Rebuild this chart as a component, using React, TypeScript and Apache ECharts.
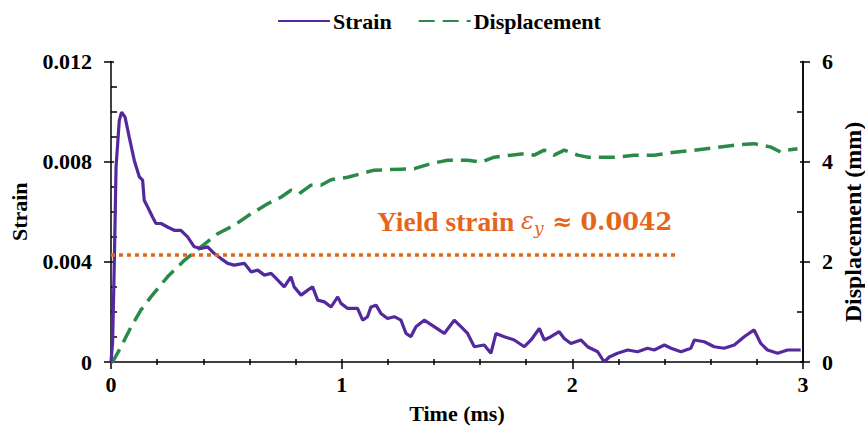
import React, { useEffect, useRef } from "react";
import * as echarts from "echarts";

const strainTime = [0, 0.007, 0.014, 0.022, 0.036, 0.046, 0.061, 0.079, 0.101, 0.123, 0.137, 0.144, 0.159, 0.18, 0.195, 0.217, 0.245, 0.274, 0.303, 0.332, 0.361, 0.39, 0.419, 0.448, 0.477, 0.506, 0.534, 0.578, 0.607, 0.636, 0.665, 0.694, 0.723, 0.751, 0.78, 0.794, 0.824, 0.853, 0.874, 0.896, 0.925, 0.954, 0.983, 0.997, 1.026, 1.069, 1.091, 1.112, 1.127, 1.149, 1.17, 1.199, 1.228, 1.257, 1.279, 1.3, 1.322, 1.358, 1.401, 1.445, 1.488, 1.517, 1.546, 1.575, 1.618, 1.647, 1.669, 1.705, 1.748, 1.792, 1.821, 1.857, 1.878, 1.907, 1.943, 1.965, 1.994, 2.037, 2.066, 2.11, 2.138, 2.16, 2.196, 2.24, 2.283, 2.326, 2.355, 2.399, 2.428, 2.471, 2.514, 2.529, 2.572, 2.615, 2.658, 2.702, 2.745, 2.788, 2.817, 2.846, 2.89, 2.933, 2.99];
const strainValues = [0, 0.0008, 0.0038, 0.0078, 0.00965, 0.00998, 0.00978, 0.00898, 0.00805, 0.00739, 0.00726, 0.00646, 0.00619, 0.00579, 0.00553, 0.00553, 0.00539, 0.00526, 0.00526, 0.005, 0.0046, 0.00453, 0.0046, 0.00433, 0.00413, 0.00394, 0.00387, 0.00394, 0.0036, 0.00367, 0.00347, 0.00354, 0.00327, 0.003, 0.0034, 0.003, 0.00267, 0.00287, 0.003, 0.00247, 0.0024, 0.0022, 0.0026, 0.00234, 0.00214, 0.00214, 0.00167, 0.00181, 0.0022, 0.00227, 0.00194, 0.00174, 0.00181, 0.00167, 0.00114, 0.00101, 0.00141, 0.00167, 0.00141, 0.00114, 0.00167, 0.00141, 0.00114, 0.00061, 0.00068, 0.00035, 0.00114, 0.00101, 0.00088, 0.00061, 0.00088, 0.00134, 0.00088, 0.00101, 0.00121, 0.00094, 0.00074, 0.00088, 0.00061, 0.00041, 0.0, 0.0002, 0.00035, 0.00048, 0.00041, 0.00055, 0.00048, 0.00068, 0.00055, 0.00041, 0.00055, 0.00088, 0.00081, 0.00061, 0.00055, 0.00068, 0.00101, 0.00128, 0.00074, 0.00048, 0.00035, 0.00048, 0.00048];

const dispTime = [0, 0.007, 0.043, 0.087, 0.13, 0.173, 0.245, 0.318, 0.39, 0.462, 0.534, 0.607, 0.679, 0.737, 0.78, 0.816, 0.867, 0.91, 0.954, 1.026, 1.084, 1.141, 1.199, 1.257, 1.315, 1.387, 1.459, 1.546, 1.604, 1.661, 1.734, 1.792, 1.835, 1.878, 1.921, 1.965, 2.023, 2.066, 2.124, 2.196, 2.268, 2.355, 2.442, 2.529, 2.615, 2.702, 2.788, 2.861, 2.904, 2.933, 2.976];
const dispValues = [0, 0, 0.3, 0.7, 1.04, 1.3, 1.7, 2.03, 2.3, 2.56, 2.73, 2.96, 3.16, 3.29, 3.43, 3.36, 3.53, 3.53, 3.64, 3.69, 3.76, 3.83, 3.84, 3.85, 3.86, 3.96, 4.03, 4.03, 3.99, 4.09, 4.13, 4.16, 4.13, 4.23, 4.13, 4.23, 4.13, 4.09, 4.09, 4.09, 4.13, 4.13, 4.19, 4.23, 4.28, 4.33, 4.36, 4.29, 4.19, 4.23, 4.26];

const yieldStrain = 0.0043;
const yieldLineEnd = 2.45;
const xTicks = [0, 1, 2, 3];
const strainTicks = [0, 0.004, 0.008, 0.012];
const dispTicks = [0, 2, 4, 6];

const FONT = "Liberation Serif";
const MATH = "DejaVu Serif";
const PURPLE = "#55299E";
const GREEN = "#2B8A48";
const ORANGE = "#E4661C";

export default function App() {
  const ref = useRef<HTMLDivElement>(null);
  useEffect(() => {
    if (!ref.current) return;
    const chart = echarts.init(ref.current, null, { renderer: "svg" });
    const lbl = { fontFamily: FONT, fontWeight: "bold" as const, fontSize: 22, color: "#000" };
    const axLine = { show: true, onZero: false, lineStyle: { color: "#000", width: 1.5 } };
    const tickStyle = { color: "#000", width: 1.5 };
    const hiddenBase = {
      axisLine: { show: false, onZero: false },
      axisLabel: { show: false },
      splitLine: { show: false },
    };
    chart.setOption({
      animation: false,
      backgroundColor: "#fff",
      legend: {
        top: 5,
        left: 272,
        itemWidth: 52,
        itemHeight: 14,
        itemGap: 26,
        textStyle: { ...lbl, padding: [0, 0, 0, -2] },
        itemStyle: { opacity: 0 },
        data: ["Strain", "Displacement"],
      },
      grid: { left: 111, right: 62, top: 61.5, bottom: 74, containLabel: false },
      xAxis: [
        {
          type: "value",
          min: xTicks[0],
          max: xTicks[xTicks.length - 1],
          interval: 1,
          name: "Time (ms)",
          nameLocation: "middle",
          nameGap: 40,
          nameTextStyle: { ...lbl },
          axisLine: axLine,
          axisTick: { show: true, inside: false, length: 7, lineStyle: tickStyle },
          minorTick: { show: true, splitNumber: 5, length: 3, lineStyle: tickStyle },
          axisLabel: { ...lbl, margin: 11 },
          splitLine: { show: false },
        },
        {
          type: "value",
          position: "bottom",
          min: xTicks[0],
          max: xTicks[xTicks.length - 1],
          interval: 1,
          ...hiddenBase,
          axisTick: { show: true, inside: true, length: 3, lineStyle: tickStyle },
          minorTick: { show: true, splitNumber: 5, length: 3, lineStyle: tickStyle },
        },
      ],
      yAxis: [
        {
          type: "value",
          min: strainTicks[0],
          max: strainTicks[strainTicks.length - 1],
          interval: 0.004,
          position: "left",
          name: "Strain",
          nameLocation: "middle",
          nameGap: 81,
          nameRotate: 90,
          nameTextStyle: { ...lbl },
          axisLine: axLine,
          axisTick: { show: true, inside: false, length: 7, lineStyle: tickStyle },
          axisLabel: { ...lbl, margin: 19, formatter: (v: number) => (v === 0 ? "0" : v.toFixed(3)) },
          splitLine: { show: false },
        },
        {
          type: "value",
          min: dispTicks[0],
          max: dispTicks[dispTicks.length - 1],
          interval: 2,
          position: "right",
          axisLine: axLine,
          axisTick: { show: true, inside: false, length: 7, lineStyle: tickStyle },
          axisLabel: { ...lbl, margin: 19 },
          splitLine: { show: false },
        },
        {
          type: "value",
          min: strainTicks[0],
          max: strainTicks[strainTicks.length - 1],
          interval: 0.004,
          position: "left",
          ...hiddenBase,
          axisTick: { show: true, inside: true, length: 3, lineStyle: tickStyle },
          minorTick: { show: true, splitNumber: 4, length: 6, lineStyle: tickStyle },
        },
        {
          type: "value",
          min: dispTicks[0],
          max: dispTicks[dispTicks.length - 1],
          interval: 2,
          position: "right",
          ...hiddenBase,
          axisLine: axLine,
          axisTick: { show: true, inside: true, length: 3, lineStyle: tickStyle },
          minorTick: { show: true, splitNumber: 2, length: 6, lineStyle: tickStyle },
        },
      ],
      series: [
        {
          name: "Strain",
          type: "line",
          xAxisIndex: 0,
          yAxisIndex: 0,
          symbol: "none",
          data: strainTime.map((t, i) => [t, strainValues[i]]),
          lineStyle: { color: PURPLE, width: 3.2 },
          itemStyle: { color: PURPLE },
          z: 3,
          markLine: {
            silent: true,
            symbol: "none",
            label: { show: false },
            lineStyle: { color: ORANGE, width: 3.5, type: [4, 4], cap: "butt" },
            data: [[{ coord: [0, yieldStrain] }, { coord: [yieldLineEnd, yieldStrain] }]],
          },
        },
        {
          name: "Displacement",
          type: "line",
          xAxisIndex: 0,
          yAxisIndex: 1,
          symbol: "none",
          data: dispTime.map((t, i) => [t, dispValues[i]]),
          lineStyle: { color: GREEN, width: 3.5, type: [16, 8] },
          itemStyle: { color: GREEN },
          z: 2,
        },
      ],
      graphic: [
        {
          type: "text",
          x: 377,
          y: 221,
          style: {
            text: "{a|Yield strain }{e|ε}{s|y}{b| ≈ 0.0042}",
            verticalAlign: "middle",
            fill: ORANGE,
            rich: {
              a: { fontFamily: FONT, fontWeight: "bold", fontSize: 27.5, fill: ORANGE },
              e: { fontFamily: MATH, fontStyle: "italic", fontSize: 24, fill: ORANGE },
              s: { fontFamily: MATH, fontStyle: "italic", fontSize: 17, fill: ORANGE, padding: [14, 0, 0, 0] },
              b: { fontFamily: MATH, fontWeight: "bold", fontSize: 24, fill: ORANGE },
            },
          },
        },
        {
          type: "text",
          x: 853,
          y: 222,
          rotation: Math.PI / 2,
          style: {
            text: "Displacement (mm)",
            fontFamily: FONT,
            fontWeight: "bold",
            fontSize: 24,
            fill: "#000",
            align: "center",
            verticalAlign: "middle",
          },
        },
      ],
    });
    return () => chart.dispose();
  }, []);
  return <div ref={ref} style={{ width: 865, height: 436, position: "absolute", left: 0, top: 0 }} />;
}
